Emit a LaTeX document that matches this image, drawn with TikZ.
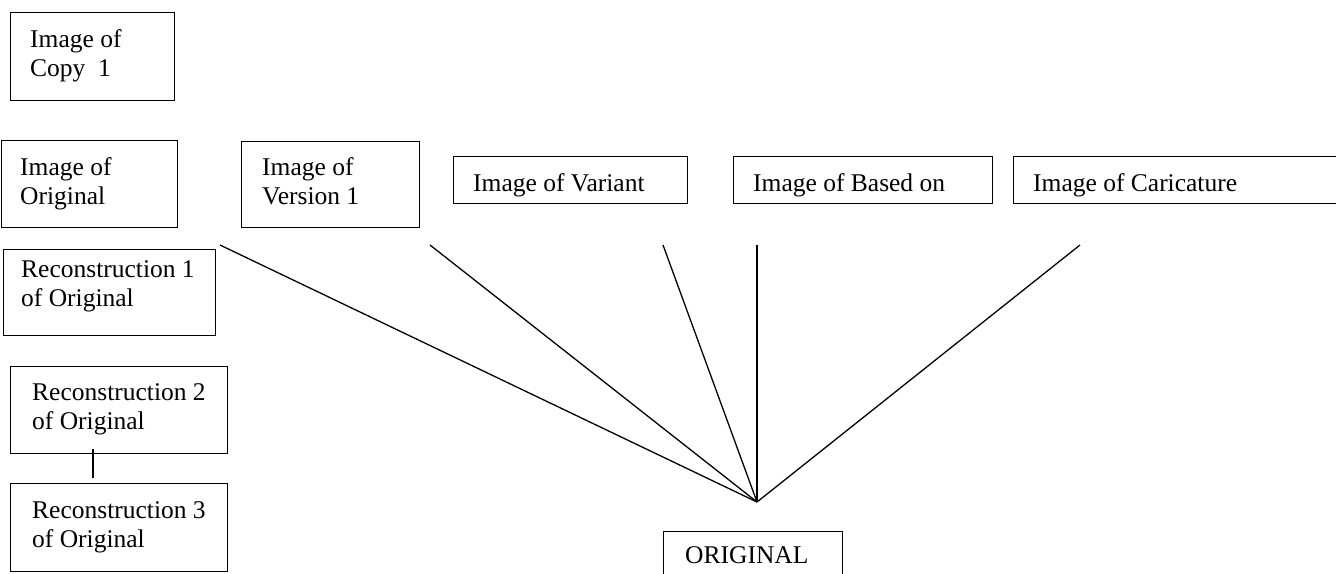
\documentclass[tikz,border=0pt]{standalone}
\usepackage{fontspec}
\setmainfont{Liberation Serif}
\newcommand{\stacked}[2]{\begin{tabular}[t]{@{}l@{}}#1\\#2\end{tabular}}
\tikzset{
  box/.style={draw=black, line width=1.3pt, rectangle, inner sep=0pt, anchor=north west},
  lbl/.style={inner sep=0pt, anchor=base west, font=\fontsize{25.5}{29.5}\selectfont},
  link/.style={draw=black, line width=1.3pt}
}
\begin{document}
\begin{tikzpicture}[x=1pt, y=-1pt]
  \useasboundingbox (0,0) rectangle (1336,573);
  \clip (0,0) rectangle (1336,573);

  % boxes
  \node[box, minimum width=164pt, minimum height=88pt] (copy) at (10,12) {};
  \node[box, minimum width=176pt, minimum height=87pt] (imgorig) at (0.8,140) {};
  \node[box, minimum width=212pt, minimum height=86pt] (rec1) at (3,249) {};
  \node[box, minimum width=217pt, minimum height=87pt] (rec2) at (10,366) {};
  \node[box, minimum width=217pt, minimum height=88pt] (rec3) at (10,483) {};
  \node[box, minimum width=178pt, minimum height=86pt] (ver1) at (241,141) {};
  \node[box, minimum width=234pt, minimum height=47pt] (variant) at (453,156) {};
  \node[box, minimum width=259pt, minimum height=47pt] (based) at (733,156) {};
  \node[box, minimum width=400pt, minimum height=47pt] (caric) at (1013,156) {};
  \node[box, minimum width=179pt, minimum height=80pt] (orig) at (663,531) {};

  % labels
  \node[lbl] (copyT) at (30,47) {\stacked{Image of}{Copy~~1}};
  \node[lbl] (imgorigT) at (20,175) {\stacked{Image of}{Original}};
  \node[lbl] (rec1T) at (21,277) {\stacked{Reconstruction 1}{of Original}};
  \node[lbl] (rec2T) at (32,400) {\stacked{Reconstruction 2}{of Original}};
  \node[lbl] (rec3T) at (32,518) {\stacked{Reconstruction 3}{of Original}};
  \node[lbl] (ver1T) at (262,175) {\stacked{Image of}{Version 1}};
  \node[lbl] (variantT) at (473,191) {Image of Variant};
  \node[lbl] (basedT) at (753,191) {Image of Based on};
  \node[lbl] (caricT) at (1033,191) {Image of Caricature};
  \node[lbl] (origT) at (685,563) {ORIGINAL};

  % connector ends
  \coordinate (hub) at (757,502);
  \coordinate (e1) at (220,245);
  \coordinate (e2) at (430,245);
  \coordinate (e3) at (663,245);
  \coordinate (e4) at (757,245);
  \coordinate (e5) at (1080,245);
  \coordinate (r2end) at (93,449);
  \coordinate (r3end) at (93,478);

  % connectors
  \foreach \e in {e1,e2,e3,e4,e5} \draw[link] (\e) -- (hub);
  \draw[link] (r2end) -- (r3end);
\end{tikzpicture}
\end{document}
